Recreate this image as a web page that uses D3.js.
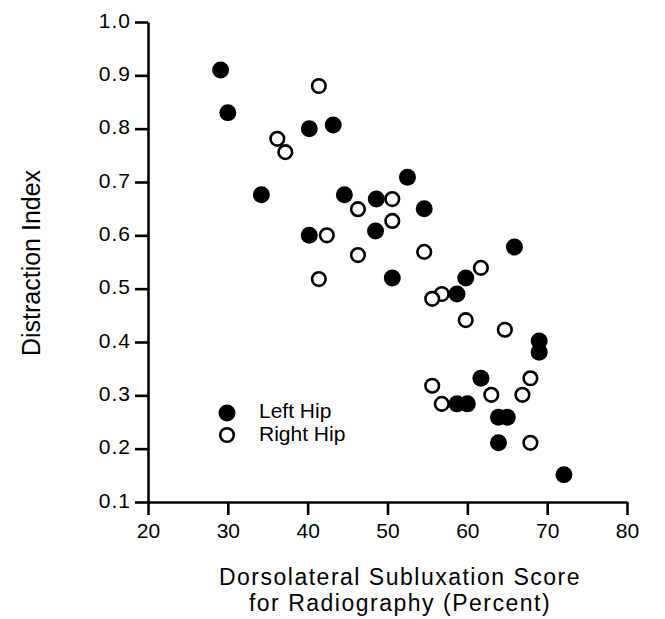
<!DOCTYPE html>
<html>
<head>
<meta charset="utf-8">
<script src="https://cdn.jsdelivr.net/npm/d3@7"></script>
<style>
  body { margin: 0; background: #fff; }
  svg { display: block; font-family: "Liberation Sans", Arial, sans-serif; }
</style>
</head>
<body>
<div id="chart"></div>
<script>
// Left hip (filled): subluxation score (%), distraction index
const leftX = [29.1, 30.0, 34.2, 40.2, 43.2, 40.2, 44.6, 48.6, 48.5, 50.6, 52.5, 54.6,
               59.8, 58.7, 65.9, 69.0, 69.0, 61.7, 58.7, 60.0, 63.9, 65.0, 63.9, 72.1];
const leftY = [0.91, 0.83, 0.676, 0.80, 0.807, 0.60, 0.676, 0.668, 0.608, 0.52, 0.709, 0.65,
               0.52, 0.49, 0.578, 0.402, 0.381, 0.332, 0.284, 0.284, 0.259, 0.259, 0.211, 0.151];

// Right hip (open)
const rightX = [41.4, 36.2, 37.2, 46.3, 42.4, 50.6, 50.6, 46.3, 41.4, 54.6, 56.8, 55.6,
                61.7, 59.8, 64.7, 67.9, 55.6, 63.0, 66.9, 56.8, 67.9];
const rightY = [0.88, 0.781, 0.756, 0.649, 0.60, 0.668, 0.627, 0.563, 0.518, 0.569, 0.49, 0.481,
                0.539, 0.441, 0.423, 0.332, 0.318, 0.301, 0.301, 0.284, 0.211];

const xTicks = [20, 30, 40, 50, 60, 70, 80];
const yTicks = [0.1, 0.2, 0.3, 0.4, 0.5, 0.6, 0.7, 0.8, 0.9, 1.0];

const width = 665, height = 619;
const plotLeft = 148, plotRight = 627, plotTop = 22, plotBottom = 502;

const svg = d3.select('#chart')
    .append('svg')
    .attr('width', width)
    .attr('height', height);

const x = d3.scaleLinear().domain([20, 80]).range([plotLeft, plotRight]);
const y = d3.scaleLinear().domain([0.1, 1.0]).range([plotBottom, plotTop]);

const xAxis = svg.append('g')
    .attr('transform', `translate(0,${plotBottom})`)
    .call(d3.axisBottom(x).tickValues(xTicks).tickSize(13).tickSizeOuter(0).tickPadding(8));

const yAxis = svg.append('g')
    .attr('transform', `translate(${plotLeft},0)`)
    .call(d3.axisLeft(y).tickValues(yTicks).tickSize(13).tickSizeOuter(0).tickPadding(4)
        .tickFormat(d3.format('.1f')));

[xAxis, yAxis].forEach((g) => {
    g.selectAll('.domain, .tick line')
        .attr('stroke', '#000')
        .attr('stroke-width', 2.6);
    g.selectAll('.tick text')
        .attr('fill', '#000')
        .attr('font-size', 21)
        .attr('font-family', '"Liberation Sans", Arial, sans-serif');
});
yAxis.selectAll('.tick text').attr('dy', '0.25em').attr('letter-spacing', 1);

// axis titles
svg.append('text')
    .attr('transform', 'translate(40,263) rotate(-90)')
    .attr('text-anchor', 'middle')
    .attr('font-size', 25)
    .text('Distraction Index');

const xt = svg.append('text')
    .attr('text-anchor', 'middle')
    .attr('font-size', 23)
    .attr('letter-spacing', 1.5);
xt.append('tspan').attr('x', 400).attr('y', 585).text('Dorsolateral Subluxation Score');
xt.append('tspan').attr('x', 400).attr('y', 611).text('for Radiography (Percent)');

// points
const r = 8;
svg.append('g').selectAll('circle')
    .data(rightX.map((d, i) => [d, rightY[i]]))
    .enter().append('circle')
    .attr('cx', (d) => x(d[0]))
    .attr('cy', (d) => y(d[1]))
    .attr('r', r - 1.2)
    .attr('fill', '#fff')
    .attr('stroke', '#000')
    .attr('stroke-width', 2.6);

svg.append('g').selectAll('circle')
    .data(leftX.map((d, i) => [d, leftY[i]]))
    .enter().append('circle')
    .attr('cx', (d) => x(d[0]))
    .attr('cy', (d) => y(d[1]))
    .attr('r', r + 0.5)
    .attr('fill', '#000');

// legend
const legend = svg.append('g').attr('transform', 'translate(227,413)');
legend.append('circle').attr('r', r + 0.5).attr('fill', '#000');
legend.append('circle').attr('cy', 22).attr('r', r - 1.2)
    .attr('fill', '#fff').attr('stroke', '#000').attr('stroke-width', 2.6);
legend.append('text').attr('x', 32).attr('y', 5).attr('font-size', 21).text('Left Hip');
legend.append('text').attr('x', 32).attr('y', 28).attr('font-size', 21).text('Right Hip');
</script>
</body>
</html>
